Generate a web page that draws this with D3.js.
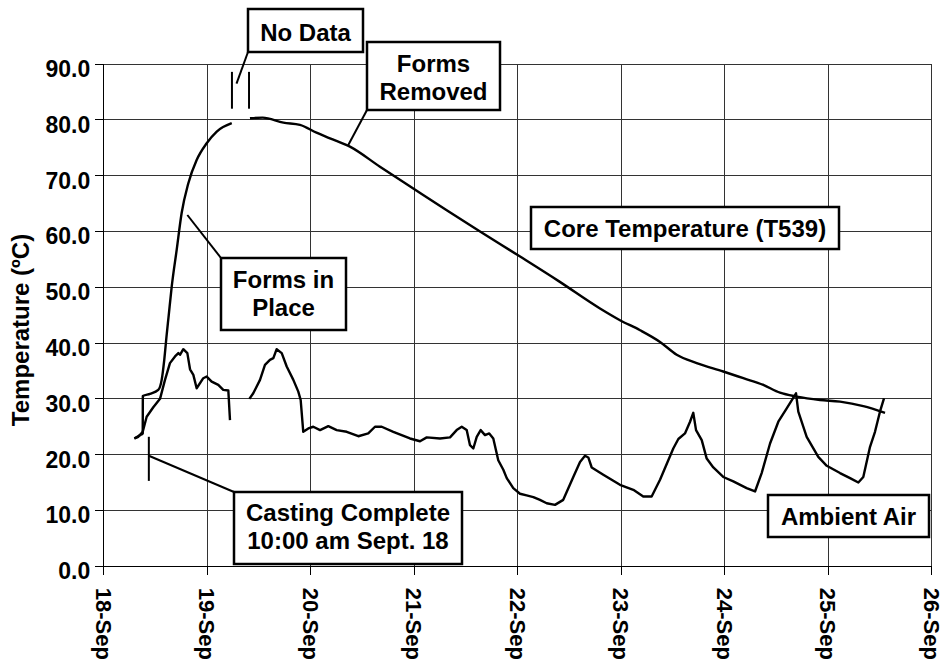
<html>
    <head>
        <title>Core and Ambient Temperature</title>
        <script src="https://d3js.org/d3.v7.min.js"></script>
        <style>
            body {
                margin: 0;
                background: #fff;
            }
            svg {
                display: block;
                font-family: Arial, "Liberation Sans", Helvetica, sans-serif;
                font-weight: bold;
            }
            .grid line {
                stroke: #333;
                stroke-width: 1;
                shape-rendering: crispEdges;
            }
            .axis path, .axis line {
                stroke: #000;
                shape-rendering: crispEdges;
            }
            .axis text {
                font-size: 23px;
                font-weight: bold;
                fill: #000;
            }
            .axis.x text {
                font-size: 22px;
            }
            .note rect {
                fill: #fff;
                stroke: #000;
                stroke-width: 2.5;
            }
            .note text {
                font-size: 24px;
                fill: #000;
                text-anchor: middle;
            }
            .leader {
                stroke: #000;
                stroke-width: 2;
                fill: none;
            }
            .series {
                fill: none;
                stroke: #000;
                stroke-width: 2.4;
                stroke-linejoin: round;
            }
        </style>
        <script>
            // day of September (fractional) and temperature in degrees C
            const dayTicks = [18, 19, 20, 21, 22, 23, 24, 25, 26];
            const dayLabels = ["18-Sep", "19-Sep", "20-Sep", "21-Sep", "22-Sep", "23-Sep", "24-Sep", "25-Sep", "26-Sep"];
            const tempTicks = [0, 10, 20, 30, 40, 50, 60, 70, 80, 90];

            // core temperature (T539), null = no data
            const coreDays = [18.300, 18.355, 18.381, 18.382, 18.451, 18.531, 18.564, 18.589, 18.613, 18.630,
                18.661, 18.709, 18.757, 18.821, 18.902, 18.999, 19.096, 19.241, null,
                19.417, 19.540, 19.740, 19.900, 20.060, 20.190, 20.383, 20.673, 20.995, 21.318,
                21.640, 22.027, 22.400, 22.799, 22.992, 23.186, 23.379, 23.540, 23.733, 23.990,
                24.184, 24.377, 24.538, 24.700, 24.925, 25.118, 25.343, 25.553];
            const coreTemps = [22.8, 23.4, 23.7, 30.4, 30.8, 31.5, 33.3, 36.9, 41.5, 44.5,
                50.0, 56.6, 63.2, 68.5, 72.7, 75.7, 77.8, 79.3, null,
                80.2, 80.3, 79.4, 79.0, 77.6, 76.6, 75.1, 71.5, 67.6, 63.7,
                59.9, 55.4, 51.0, 46.1, 44.0, 42.2, 40.1, 37.8, 36.3, 34.8,
                33.6, 32.4, 31.0, 30.3, 29.7, 29.4, 28.6, 27.4];

            // ambient air, null = no data
            const ambientDays = [18.300, 18.338, 18.381, 18.419, 18.483, 18.548, 18.596, 18.644, 18.693, 18.725,
                18.741, 18.773, 18.812, 18.838, 18.870, 18.902, 18.966, 18.999, 19.047, 19.111,
                19.159, 19.208, 19.224, null,
                19.411, 19.449, 19.514, 19.562, 19.610, 19.643, 19.675, 19.724, 19.772, 19.836,
                19.884, 19.907, 19.932, 19.981, 20.029, 20.094, 20.174, 20.255, 20.352, 20.464,
                20.560, 20.625, 20.690, 20.802, 20.963, 21.060, 21.125, 21.253, 21.350, 21.414,
                21.463, 21.511, 21.543, 21.575, 21.608, 21.646, 21.688, 21.729, 21.768, 21.816,
                21.865, 21.898, 21.961, 22.026, 22.090, 22.155, 22.219, 22.284, 22.364, 22.444,
                22.541, 22.606, 22.654, 22.686, 22.719, 22.831, 22.992, 23.121, 23.217, 23.298,
                23.379, 23.507, 23.556, 23.620, 23.669, 23.700, 23.727, 23.782, 23.830, 23.894,
                23.990, 24.087, 24.216, 24.297, 24.361, 24.442, 24.522, 24.603, 24.693, 24.715,
                24.796, 24.908, 24.990, 25.118, 25.215, 25.295, 25.343, 25.408, 25.456, 25.504,
                25.543];
            const ambientTemps = [22.8, 23.1, 24.0, 26.7, 28.4, 29.9, 33.3, 36.3, 37.5, 38.1,
                37.8, 38.8, 38.1, 35.2, 34.2, 31.8, 33.6, 33.9, 33.0, 32.4,
                31.5, 31.4, 26.1, null,
                29.9, 30.9, 33.3, 36.0, 36.9, 37.2, 38.8, 38.1, 35.7, 33.3,
                31.2, 29.7, 24.0, 24.6, 24.9, 24.3, 25.0, 24.3, 24.0, 23.2,
                23.7, 24.9, 24.9, 24.0, 22.8, 22.3, 23.0, 22.8, 23.0, 24.3,
                24.9, 24.3, 21.6, 21.0, 23.1, 24.3, 23.4, 23.7, 22.8, 18.9,
                17.2, 15.7, 13.9, 12.9, 12.6, 12.3, 11.8, 11.2, 10.9, 11.8,
                15.9, 18.6, 19.7, 19.4, 17.6, 16.3, 14.5, 13.6, 12.4, 12.4,
                15.4, 21.0, 22.7, 23.7, 25.8, 27.4, 24.3, 22.5, 19.2, 17.6,
                15.9, 15.1, 13.9, 13.3, 16.6, 21.9, 25.8, 28.2, 30.9, 27.6,
                23.1, 19.5, 17.9, 16.6, 15.7, 14.9, 15.9, 21.3, 24.0, 27.6,
                30.0];

            // event markers
            const castingDay = 18.44;
            const castingTemps = [23.1, 15.2];
            const gapDays = [19.243, 19.408];
            const gapTemps = [88.5, 81.9];

            const noteNoData = ["No Data"];
            const noteRemoved = ["Forms", "Removed"];
            const noteInPlace = ["Forms in", "Place"];
            const noteCore = ["Core Temperature (T539)"];
            const noteCasting = ["Casting Complete", "10:00 am Sept. 18"];
            const noteAmbient = ["Ambient Air"];

            document.addEventListener('DOMContentLoaded', function () {
                const svg = d3.select("#chart");

                var x = d3.scaleLinear().domain([18, 26]).range([103.3, 931.3]);
                var y = d3.scaleLinear().domain([0, 90]).range([565.7, 63.5]);

                // grid
                var grid = svg.append("g").attr("class", "grid");
                grid.selectAll("line.h")
                    .data(tempTicks)
                    .enter()
                    .append("line")
                    .attr("class", "h")
                    .attr("x1", x(18) - 8)
                    .attr("x2", x(26))
                    .attr("y1", d => Math.round(y(d)) + 0.5)
                    .attr("y2", d => Math.round(y(d)) + 0.5);
                grid.selectAll("line.v")
                    .data(dayTicks)
                    .enter()
                    .append("line")
                    .attr("class", "v")
                    .attr("x1", d => Math.round(x(d)) + 0.5)
                    .attr("x2", d => Math.round(x(d)) + 0.5)
                    .attr("y1", y(90))
                    .attr("y2", y(0) + 9);

                // axes
                var yAxis = d3.axisLeft(y)
                    .tickValues(tempTicks)
                    .tickFormat(d3.format(".1f"))
                    .tickSize(8)
                    .tickSizeOuter(0)
                    .tickPadding(6);
                svg.append("g")
                    .attr("class", "axis y")
                    .attr("transform", "translate(" + x(18) + ",0)")
                    .call(yAxis)
                    .selectAll("text")
                    .attr("dy", 13)
                    .attr("x", -13);

                var xAxis = d3.axisBottom(x)
                    .tickValues(dayTicks)
                    .tickFormat((d, i) => dayLabels[i])
                    .tickSize(9)
                    .tickSizeOuter(0);
                svg.append("g")
                    .attr("class", "axis x")
                    .attr("transform", "translate(0," + y(0) + ")")
                    .call(xAxis)
                    .selectAll("text")
                    .attr("transform", "translate(0,22) rotate(90)")
                    .attr("x", 0)
                    .attr("y", 0)
                    .attr("dy", "0.36em")
                    .style("text-anchor", "start");

                svg.append("text")
                    .attr("transform", "translate(29," + 330 + ") rotate(-90)")
                    .attr("text-anchor", "middle")
                    .style("font-size", "24px")
                    .text("Temperature (\u00baC)");

                // series
                var line = d3.line()
                    .defined(d => d[0] !== null)
                    .x(d => x(d[0]))
                    .y(d => y(d[1]));

                svg.append("path")
                    .attr("class", "series")
                    .attr("d", line.curve(d3.curveMonotoneX)(d3.zip(coreDays, coreTemps)));
                svg.append("path")
                    .attr("class", "series")
                    .attr("d", line.curve(d3.curveLinear)(d3.zip(ambientDays, ambientTemps)));

                // markers for casting time and the data gap
                svg.append("line")
                    .attr("class", "leader")
                    .attr("x1", x(castingDay)).attr("x2", x(castingDay))
                    .attr("y1", y(castingTemps[0])).attr("y2", y(castingTemps[1]));
                gapDays.forEach(function (d) {
                    svg.append("line")
                        .attr("class", "leader")
                        .attr("x1", x(d)).attr("x2", x(d))
                        .attr("y1", y(gapTemps[0])).attr("y2", y(gapTemps[1]));
                });

                // leader lines
                function leader(x1, y1, x2, y2) {
                    svg.append("line")
                        .attr("class", "leader")
                        .attr("x1", x1).attr("y1", y1)
                        .attr("x2", x2).attr("y2", y2);
                }
                leader(248, 52, x(19.287), y(86.4));
                leader(367, 110, x(20.367), y(75.4));
                leader(221, 258, x(18.812), y(62.85));
                leader(234, 492, x(castingDay), y(19.7));

                // annotation boxes
                function note(x0, y0, x1, y1, lines, baselines) {
                    var g = svg.append("g").attr("class", "note");
                    g.append("rect")
                        .attr("x", x0).attr("y", y0)
                        .attr("width", x1 - x0).attr("height", y1 - y0);
                    g.selectAll("text")
                        .data(lines)
                        .enter()
                        .append("text")
                        .attr("x", (x0 + x1) / 2)
                        .attr("y", (d, i) => baselines[i])
                        .text(d => d);
                }
                note(248, 9, 363, 52, noteNoData, [41]);
                note(367, 42, 500, 110, noteRemoved, [72, 100]);
                note(221, 258, 346, 330, noteInPlace, [288, 316]);
                note(531, 207, 839, 249, noteCore, [237]);
                note(234, 492, 462, 564, noteCasting, [521, 549]);
                note(768, 495, 929, 537, noteAmbient, [525]);
            });
        </script>
    </head>
    <body>
        <svg id="chart" width="943" height="669"></svg>
    </body>
</html>
